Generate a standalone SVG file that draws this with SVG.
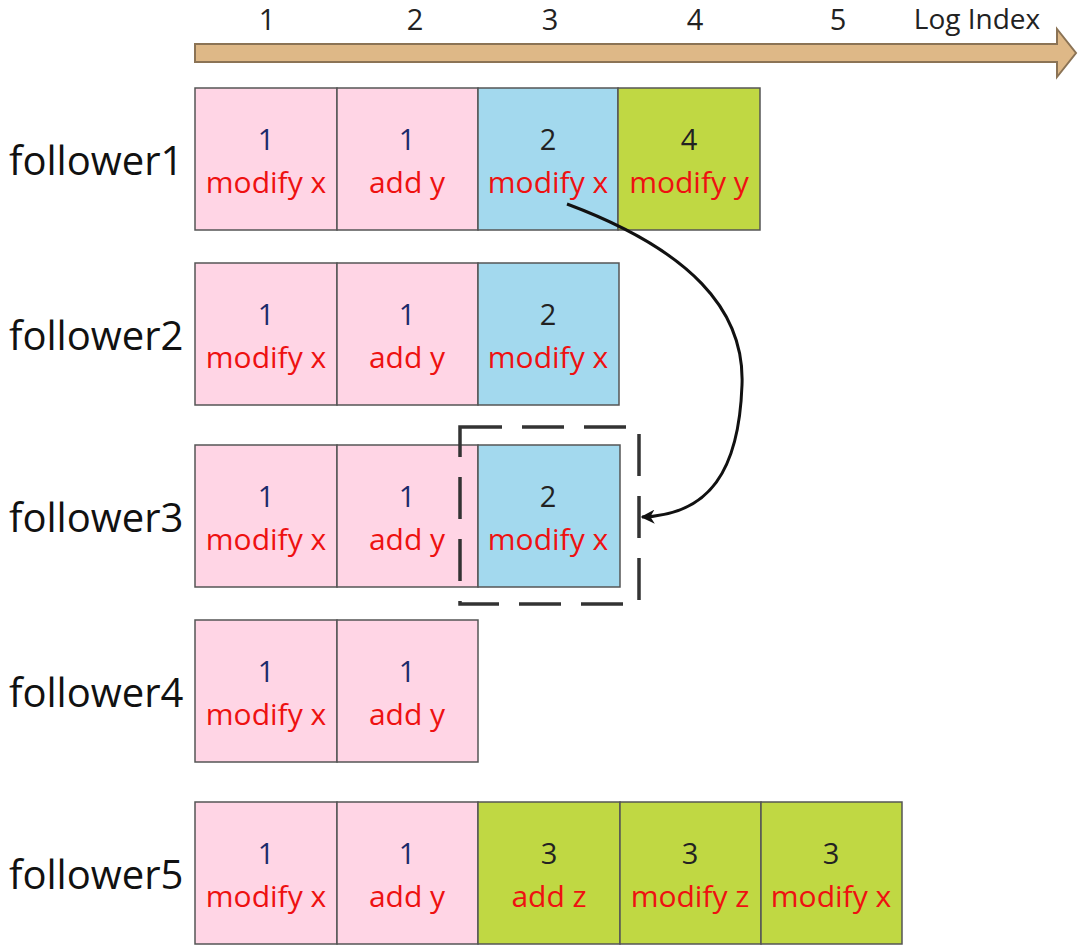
<svg xmlns="http://www.w3.org/2000/svg" width="1080" height="946" viewBox="0 0 1080 946">
<defs>
<style>
.c{stroke:#555;stroke-width:1.5}
.p{fill:#FFD5E5}.b{fill:#A3D9EE}.g{fill:#C0D843}
.n{font-family:"Open Sans","Noto Sans",sans-serif;font-size:29px;text-anchor:middle;fill:#222}
.n1{fill:#1B2A6B}
.o{font-family:"Open Sans","Noto Sans",sans-serif;font-size:30px;text-anchor:middle;fill:#EE1111}
.lbl{font-family:"Open Sans","Noto Sans",sans-serif;font-size:40px;fill:#111}
.ax{font-family:"Open Sans","Noto Sans",sans-serif;font-size:29px;fill:#222;text-anchor:middle}
</style>
<marker id="ah" viewBox="0 0 10 10" refX="9" refY="5" markerWidth="16" markerHeight="14" orient="auto" markerUnits="userSpaceOnUse">
<path d="M0,0 L10,5 L0,10 L3,5 Z" fill="#111"/>
</marker>
</defs>
<rect width="1080" height="946" fill="#fff"/>
<g id="axis">
<path d="M195,44 H1057 V29 L1076,53 L1057,77 V62 H195 Z" fill="#DEB887" stroke="#8B7355" stroke-width="2"/>
<text class="ax" x="267" y="30">1</text>
<text class="ax" x="415" y="30">2</text>
<text class="ax" x="550" y="30">3</text>
<text class="ax" x="695" y="30">4</text>
<text class="ax" x="838" y="30">5</text>
<text class="ax" x="977" y="29" style="font-size:28px">Log Index</text>
</g>
<g id="follower1">
<text class="lbl" x="9" y="175">follower1</text>
<rect class="c p" x="195" y="88" width="142" height="142"/>
<rect class="c p" x="337" y="88" width="141" height="142"/>
<rect class="c b" x="478" y="88" width="140" height="142"/>
<rect class="c g" x="618" y="88" width="142" height="142"/>
<text class="n n1" x="266" y="150">1</text><text class="o" x="266" y="193">modify x</text>
<text class="n n1" x="407" y="150">1</text><text class="o" x="407" y="193">add y</text>
<text class="n" x="548" y="150">2</text><text class="o" x="548" y="193">modify x</text>
<text class="n" x="689" y="150">4</text><text class="o" x="689" y="193">modify y</text>
</g>
<g id="follower2">
<text class="lbl" x="9" y="350">follower2</text>
<rect class="c p" x="195" y="263" width="142" height="142"/>
<rect class="c p" x="337" y="263" width="141" height="142"/>
<rect class="c b" x="478" y="263" width="141" height="142"/>
<text class="n n1" x="266" y="325">1</text><text class="o" x="266" y="368">modify x</text>
<text class="n n1" x="407" y="325">1</text><text class="o" x="407" y="368">add y</text>
<text class="n" x="548" y="325">2</text><text class="o" x="548" y="368">modify x</text>
</g>
<g id="follower3">
<text class="lbl" x="9" y="532">follower3</text>
<rect class="c p" x="195" y="445" width="142" height="142"/>
<rect class="c p" x="337" y="445" width="141" height="142"/>
<rect class="c b" x="478" y="445" width="142" height="142"/>
<text class="n n1" x="266" y="507">1</text><text class="o" x="266" y="550">modify x</text>
<text class="n n1" x="407" y="507">1</text><text class="o" x="407" y="550">add y</text>
<text class="n" x="548" y="507">2</text><text class="o" x="548" y="550">modify x</text>
</g>
<g id="highlight">
<rect x="460" y="427" width="179" height="177" fill="none" stroke="#333" stroke-width="3.5" stroke-dasharray="42,20"/>
</g>
<g id="follower4">
<text class="lbl" x="9" y="707">follower4</text>
<rect class="c p" x="195" y="620" width="142" height="142"/>
<rect class="c p" x="337" y="620" width="141" height="142"/>
<text class="n n1" x="266" y="682">1</text><text class="o" x="266" y="725">modify x</text>
<text class="n n1" x="407" y="682">1</text><text class="o" x="407" y="725">add y</text>
</g>
<g id="follower5">
<text class="lbl" x="9" y="889">follower5</text>
<rect class="c p" x="195" y="802" width="142" height="142"/>
<rect class="c p" x="337" y="802" width="141" height="142"/>
<rect class="c g" x="478" y="802" width="142" height="142"/>
<rect class="c g" x="620" y="802" width="141" height="142"/>
<rect class="c g" x="761" y="802" width="141" height="142"/>
<text class="n n1" x="266" y="864">1</text><text class="o" x="266" y="907">modify x</text>
<text class="n n1" x="407" y="864">1</text><text class="o" x="407" y="907">add y</text>
<text class="n" x="549" y="864">3</text><text class="o" x="549" y="907">add z</text>
<text class="n" x="690" y="864">3</text><text class="o" x="690" y="907">modify z</text>
<text class="n" x="831" y="864">3</text><text class="o" x="831" y="907">modify x</text>
</g>
<g id="connectors">
<path d="M567,204 C690,250 745,310 742,385 C739,470 710,515 642,517" fill="none" stroke="#111" stroke-width="3" marker-end="url(#ah)"/>
</g>
</svg>
